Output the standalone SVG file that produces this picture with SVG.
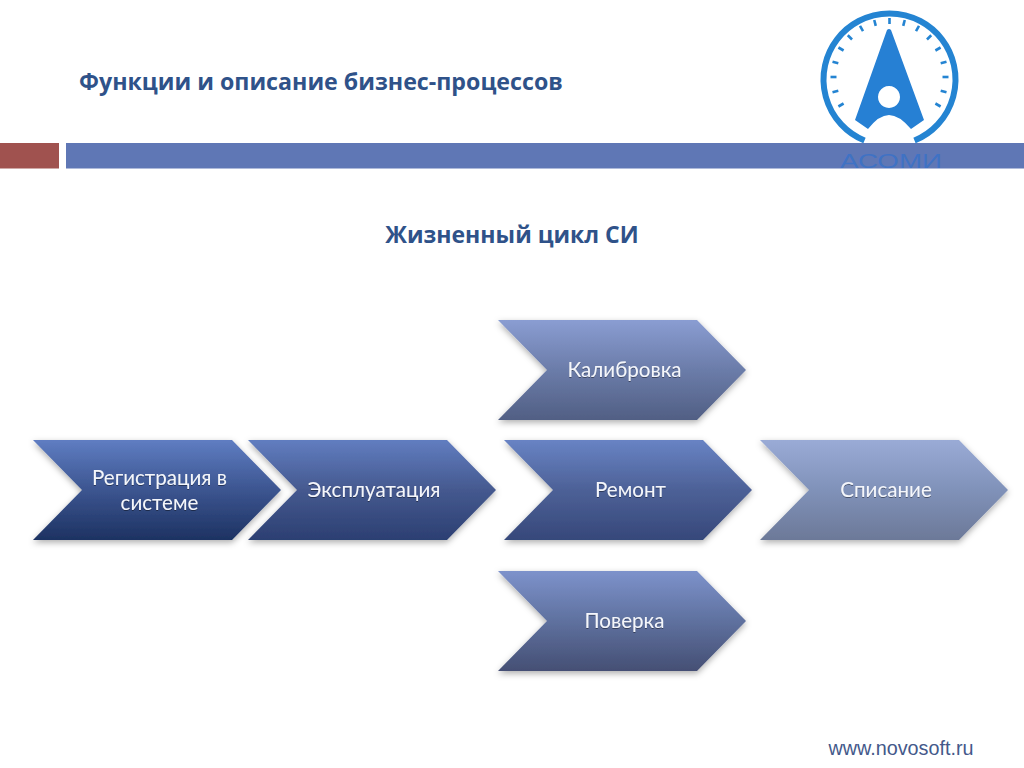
<svg xmlns="http://www.w3.org/2000/svg" width="1024" height="768" viewBox="0 0 1024 768">
<style>
.t{font-family:"Open Sans","Noto Sans",sans-serif;font-weight:700;fill:#2f5289}
.c{font-family:"Lato","Noto Sans",sans-serif;font-size:20.6px;fill:#f4f6fb;text-anchor:middle;filter:url(#ts)}
.tick{stroke:#2484d2;stroke-width:2.6;stroke-linecap:butt}
</style>
<defs>
<linearGradient id="g1" x1="0" y1="0" x2="0" y2="1"><stop offset="0" stop-color="#5f7dc2"/><stop offset=".5" stop-color="#3c5590"/><stop offset="1" stop-color="#1d3262"/></linearGradient>
<linearGradient id="g2" x1="0" y1="0" x2="0" y2="1"><stop offset="0" stop-color="#617dc0"/><stop offset=".5" stop-color="#45598f"/><stop offset="1" stop-color="#2c3f72"/></linearGradient>
<linearGradient id="g3" x1="0" y1="0" x2="0" y2="1"><stop offset="0" stop-color="#6883c4"/><stop offset=".5" stop-color="#4d6197"/><stop offset="1" stop-color="#36487a"/></linearGradient>
<linearGradient id="g4" x1="0" y1="0" x2="0" y2="1"><stop offset="0" stop-color="#8a9dd2"/><stop offset=".5" stop-color="#6b7ca9"/><stop offset="1" stop-color="#515f84"/></linearGradient>
<linearGradient id="g5" x1="0" y1="0" x2="0" y2="1"><stop offset="0" stop-color="#7d92cb"/><stop offset=".5" stop-color="#5f719f"/><stop offset="1" stop-color="#454f74"/></linearGradient>
<linearGradient id="g6" x1="0" y1="0" x2="0" y2="1"><stop offset="0" stop-color="#9aabd6"/><stop offset=".5" stop-color="#8092b9"/><stop offset="1" stop-color="#6c7998"/></linearGradient>
<filter id="sh" x="-10%" y="-15%" width="120%" height="135%"><feDropShadow dx="0" dy="2.5" stdDeviation="3" flood-color="#000" flood-opacity=".32"/></filter>
<filter id="ts" x="-10%" y="-20%" width="120%" height="150%"><feDropShadow dx="0" dy="1" stdDeviation=".7" flood-color="#000" flood-opacity=".4"/></filter>
<path id="chev" d="M0 0H199L248 50L199 100H0L49 50Z" filter="url(#sh)"/>
</defs>
<rect width="1024" height="768" fill="#fff"/>
<g id="header">
<rect x="0" y="143" width="59" height="25.5" fill="#a0524f"/>
<rect x="66" y="143" width="958" height="25.5" fill="#5f77b5"/>
<text class="t" x="79" y="90" font-size="23.2">Функции и описание бизнес-процессов</text>
</g>
<g id="logo">
<path d="M864.5 140.500A66 66 0 1 1 914.500 140.500" fill="none" stroke="#2484d2" stroke-width="6"/>
<g class="tick" transform="translate(889.500 77)">
<path d="M0-59V-53" transform="rotate(-120)"/><path d="M0-59V-53" transform="rotate(-105)"/><path d="M0-59V-53" transform="rotate(-90)"/><path d="M0-59V-53" transform="rotate(-75)"/><path d="M0-59V-53" transform="rotate(-60)"/><path d="M0-59V-53" transform="rotate(-45)"/><path d="M0-59V-53" transform="rotate(-30)"/><path d="M0-59V-53" transform="rotate(-15)"/><path d="M0-59V-53"/><path d="M0-59V-53" transform="rotate(15)"/><path d="M0-59V-53" transform="rotate(30)"/><path d="M0-59V-53" transform="rotate(45)"/><path d="M0-59V-53" transform="rotate(60)"/><path d="M0-59V-53" transform="rotate(75)"/><path d="M0-59V-53" transform="rotate(90)"/><path d="M0-59V-53" transform="rotate(105)"/><path d="M0-59V-53" transform="rotate(120)"/>
</g>
<path fill-rule="evenodd" fill="#2680d4" d="M887 30Q889 28 891 30L924 120L911 129Q899 115 889 115Q879 115 868 129L855 120ZM889 86a11 11 0 1 0 .01 0Z"/>
<text x="840" y="168" font-family="Liberation Sans,sans-serif" font-size="21" fill="#3f72c4" textLength="102" lengthAdjust="spacingAndGlyphs">АСОМИ</text>
</g>
<text class="t" x="512" y="243" font-size="23" text-anchor="middle">Жизненный цикл СИ</text>
<g id="connectors"></g>
<g id="n1"><use href="#chev" x="33" y="440" fill="url(#g1)"/><text class="c" x="159.500" y="485">Регистрация в</text><text class="c" x="159.500" y="510">системе</text></g>
<g id="n2"><use href="#chev" x="248" y="440" fill="url(#g2)"/><text class="c" x="374" y="497">Эксплуатация</text></g>
<g id="n3"><use href="#chev" x="504" y="440" fill="url(#g3)"/><text class="c" x="630.500" y="497">Ремонт</text></g>
<g id="n4"><use href="#chev" x="498" y="320" fill="url(#g4)"/><text class="c" x="624.500" y="377">Калибровка</text></g>
<g id="n5"><use href="#chev" x="498" y="571" fill="url(#g5)"/><text class="c" x="624.500" y="628">Поверка</text></g>
<g id="n6"><use href="#chev" x="760" y="440" fill="url(#g6)"/><text class="c" x="886" y="497">Списание</text></g>
<text x="901" y="755" font-family="Liberation Sans,sans-serif" font-size="19.800" fill="#44598a" text-anchor="middle">www.novosoft.ru</text>
</svg>
